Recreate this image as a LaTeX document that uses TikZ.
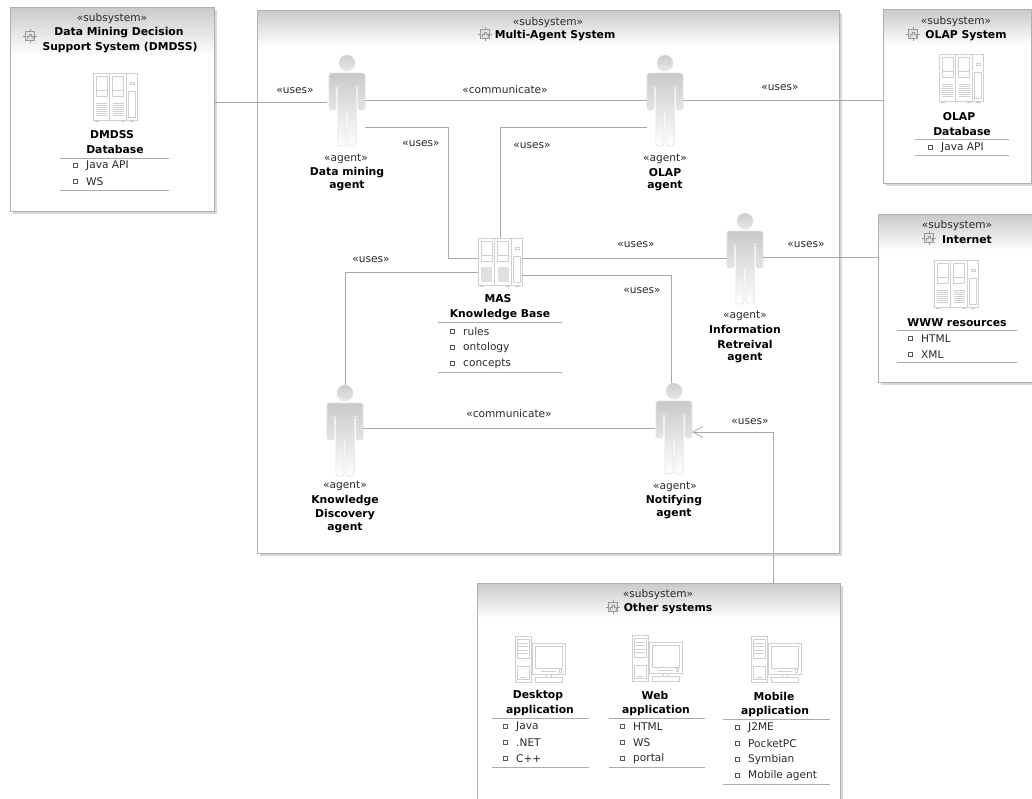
\documentclass[tikz,border=0pt]{standalone}
\usepackage{fontspec}
\setmainfont{DejaVu Sans}
\usetikzlibrary{arrows.meta}
\definecolor{iconc}{HTML}{CFCFCF}
\definecolor{linec}{HTML}{A8A8A8}
\definecolor{framec}{HTML}{B0B0B0}
\definecolor{shadowc}{HTML}{D8D8DC}
\definecolor{headc}{HTML}{C8C9CB}
\definecolor{textc}{HTML}{2A2A2A}
\definecolor{ruleg}{HTML}{ABABAB}
\newcounter{nn}
\tikzset{
  x=1pt,y=-1pt,
  sysbox/.style={draw=none,inner sep=0pt,outer sep=0pt},
  anchorbox/.style={inner sep=0pt,outer sep=0pt},
  conn/.style={draw=linec,line width=0.9pt},
  steret/.style={font=\fontsize{10.6}{12}\selectfont,text=textc,inner sep=0pt,yshift=-1.5pt},
  title/.style={font=\fontsize{10.8}{12}\selectfont\bfseries,text=black,inner sep=0pt,yshift=-1.2pt},
  item/.style={font=\fontsize{10.6}{12}\selectfont,text=textc,inner sep=0pt,anchor=west,yshift=-0.8pt},
  iconl/.style={draw=iconc,line width=0.8pt},
  rulel/.style={draw=ruleg,line width=0.7pt},
}
% \txt{style}{x}{y}{text}
\newcommand{\txt}[4]{\stepcounter{nn}\node[#1] (t\thenn) at (#2,#3) {#4};}
\newcommand{\bul}[3]{\fill[white] (#1-1.8,#2-1.8) rectangle (#1+1.8,#2+1.8);\draw[draw=black!65,line width=0.6pt] (#1-1.8,#2-1.8) rectangle (#1+1.8,#2+1.8);\txt{item}{#1+11}{#2}{#3}}
% system frame x1 y1 x2 y2 ybottomheader name
\newcommand{\sysframe}[6]{%
  \fill[shadowc] (#1+3,#2+3) rectangle (#3+3,#4+3);
  \fill[white] (#1,#2) rectangle (#3,#4);
  \shade[top color=headc,bottom color=white] (#1,#2) rectangle (#3,#5);
  \draw[draw=framec,line width=1pt] (#1,#2) rectangle (#3,#4);
  \node[sysbox,minimum width=#3pt-#1pt,minimum height=#4pt-#2pt] (#6) at ({(#1+#3)/2},{(#2+#4)/2}) {};
}
\newcommand{\subicon}[2]{%
  \begin{scope}[shift={(#1,#2)}]
    \draw[draw=black!40,line width=0.6pt,fill=black!12] (-4.5,-4.5) rectangle (4.5,4.5);
    \draw[draw=black!40,line width=0.6pt] (0,-7) -- (0,-4.5) (0,4.5) -- (0,7) (-7,0) -- (-4.5,0) (4.5,0) -- (7,0);
    \draw[draw=black!40,line width=0.5pt] (-3,2.5) -- (-3,0.5) -- (-1,0.5) -- (-1,-2) -- (1,-2) -- (1,0.5) -- (3,0.5) -- (3,2.5);
  \end{scope}}
% database icon: x y (top-left) name fill(0/1)
\newcommand{\dbicon}[4]{%
  \node[anchorbox,minimum width=44pt,minimum height=49pt] (#3) at (#1+22,#2+24.5) {};
  \begin{scope}[shift={(#1,#2)}]
    \draw[iconl,fill=white] (0,0) rectangle (44,47);
    \draw[iconl] (16.5,0) -- (16.5,47) (33,0) -- (33,47);
    \foreach \dx in {0,16.5}{
      \begin{scope}[shift={(\dx,0)}]
        \draw[iconl] (3,3) rectangle (14,23);
        \draw[iconl] (3,17) -- (14,17);
        \ifnum#4=1
          \fill[black!12] (3,29) rectangle (14,44);
        \else
          \foreach \yy in {30,32,34,36,38,40,42}{\draw[draw=iconc,line width=0.5pt] (3,\yy) -- (14,\yy);}
        \fi
      \end{scope}}
    \draw[iconl] (41,9) rectangle (37,11);
    \draw[iconl] (35.5,18) rectangle (42.5,44);
    \fill[iconc] (2,47) rectangle (6,49) (28,47) rectangle (32,49) (37,47) rectangle (41,49);
  \end{scope}}
% PC icon: x y name
\newcommand{\pcicon}[3]{%
  \node[anchorbox,minimum width=50pt,minimum height=46pt] (#3) at (#1+25,#2+23) {};
  \begin{scope}[shift={(#1,#2)}]
    \draw[iconl] (0,0) rectangle (16,46);
    \draw[iconl] (2,3) rectangle (14,22);
    \draw[iconl] (3,7) -- (13,7) (3,10.5) -- (13,10.5) (3,14) -- (13,14) (3,17.5) -- (13,17.5);
    \draw[iconl] (2,30) rectangle (14,43);
    \draw[iconl] (5,41) -- (11,41);
    \draw[iconl,fill=white] (17,7) rectangle (50,38);
    \draw[iconl] (20,10) rectangle (47,32);
    \draw[iconl] (26,35) -- (41,35);
    \draw[iconl] (44,33.5) rectangle (46,36.5);
    \draw[iconl] (31,38) -- (31,41) (36,38) -- (36,41);
    \draw[iconl] (20,41) rectangle (47,46);
  \end{scope}}
% actor: cx top name
\newcommand{\actor}[3]{%
  \node[anchorbox,minimum width=36pt,minimum height=91pt] (#3) at (#1,#2+45.5) {};
  \begin{scope}[shift={(#1,#2)}]
    \shade[top color=black!20,bottom color=black!9,draw=black!10,line width=0.5pt] (0,8) circle[radius=8];
    \shade[top color=headc,bottom color=white,draw=black!11,line width=0.6pt,rounded corners=2.6pt]
      (-18,18) -- (-18,55) -- (-11,55) -- (-11,31.5) -- (-9.2,31.5) -- (-9.2,91) -- (-1,91) -- (-1,54) -- (1,54) -- (1,91) -- (9.2,91) -- (9.2,31.5) -- (11,31.5) -- (11,55) -- (18,55) -- (18,18) -- cycle;
  \end{scope}}
\begin{document}
\begin{tikzpicture}
\useasboundingbox (0,0) rectangle (1032,798);
\clip (0,0) rectangle (1032,798);
\fill[white] (0,0) rectangle (1032,798);

% frames
\sysframe{10}{7}{214}{211}{55}{dmdss}
\sysframe{257}{10}{839}{553}{46}{mas}
\sysframe{883}{9}{1031}{183}{45}{olapsys}
\sysframe{878}{214}{1045}{382}{250}{internet}
\sysframe{477}{583}{840}{815}{618}{other}

% subsystem titles
\txt{steret}{112}{17}{«subsystem»}
\txt{title}{119}{31}{Data Mining Decision}
\txt{title}{120}{46}{Support System (DMDSS)}
\subicon{30}{36}
\txt{steret}{548}{21}{«subsystem»}
\txt{title}{555}{34}{Multi-Agent System}
\subicon{485}{34}
\txt{steret}{956}{20}{«subsystem»}
\txt{title}{966}{34}{OLAP System}
\subicon{913}{34}
\txt{steret}{957}{224}{«subsystem»}
\txt{title}{967}{238}{Internet}
\subicon{929}{238}
\txt{steret}{658}{593}{«subsystem»}
\txt{title}{668}{607}{Other systems}
\subicon{613}{607}

% icons
\dbicon{93}{73}{dmdssdb}{0}
\dbicon{939}{54}{olapdb}{0}
\dbicon{934}{260}{wwwdb}{0}
\dbicon{478}{238}{kb}{1}
\pcicon{515}{636}{desk}
\pcicon{632}{635}{web}
\pcicon{751}{636}{mobile}

% actors
\actor{347}{55}{dm}
\actor{665}{55}{olap}
\actor{745}{213}{info}
\actor{345}{385}{kd}
\actor{674}{383}{notif}

% connectors
\draw[conn] ([yshift=7pt]dmdss.east) -- ([xshift=-2pt,yshift=7pt]dmdss.east -| dm.west);
\draw[conn] (dm.east) -- (olap.west);
\draw[conn] (olap.east) -- (olap.east -| olapsys.west);
\draw[conn] ([yshift=-26.5pt]dm.east) -- ++(83,0) |- ([yshift=4.5pt]kb.west);
\draw[conn] (kb.north) |- ([yshift=-26.5pt]olap.west);
\draw[conn] ([yshift=-9.5pt]kb.west) -| (kd.north);
\draw[conn] ([yshift=4.5pt]kb.east) -- ([yshift=4.5pt]kb.east -| info.west);
\draw[conn] ([yshift=-12.5pt]kb.east) -| ([xshift=-2.5pt]notif.north);
\draw[conn] ([yshift=1.5pt]info.east) -- ([yshift=1.5pt]info.east -| internet.west);
\draw[conn] (notif.west -| kd.east) -- ([xshift=-1pt]notif.west);
\draw[conn,-{Straight Barb[length=10pt,width=11pt,line width=0.8pt]}] ([xshift=114.5pt]other.north) |- ([yshift=-3.5pt]notif.east);

% connector labels
\txt{steret}{295}{89}{«uses»}
\txt{steret}{505}{88}{«communicate»}
\txt{steret}{421}{142}{«uses»}
\txt{steret}{532}{144}{«uses»}
\txt{steret}{780}{86}{«uses»}
\txt{steret}{636}{243}{«uses»}
\txt{steret}{806}{243}{«uses»}
\txt{steret}{371}{258}{«uses»}
\txt{steret}{642}{289}{«uses»}
\txt{steret}{509}{412}{«communicate»}
\txt{steret}{750}{420}{«uses»}

% actor labels
\txt{steret}{346}{157}{«agent»}
\txt{title}{347}{171}{Data mining}
\txt{title}{347}{185}{agent}
\txt{steret}{665}{157}{«agent»}
\txt{title}{665}{171}{OLAP}
\txt{title}{665}{185}{agent}
\txt{steret}{745}{314}{«agent»}
\txt{title}{745}{328}{Information}
\txt{title}{745}{343}{Retreival}
\txt{title}{745}{357}{agent}
\txt{steret}{345}{484}{«agent»}
\txt{title}{345}{499}{Knowledge}
\txt{title}{345}{513}{Discovery}
\txt{title}{345}{527}{agent}
\txt{steret}{675}{485}{«agent»}
\txt{title}{674}{499}{Notifying}
\txt{title}{674}{513}{agent}

% DMDSS Database
\txt{title}{112}{133}{DMDSS}
\txt{title}{115}{148}{Database}
\draw[rulel] (60,158) -- (169,158) (60,190) -- (169,190);
\bul{75}{165}{Java API}
\bul{75}{181}{WS}

% OLAP Database
\txt{title}{959}{115}{OLAP}
\txt{title}{962}{130}{Database}
\draw[rulel] (915,139) -- (1009,139) (915,155) -- (1009,155);
\bul{930}{147}{Java API}

% WWW
\txt{title}{957}{321}{WWW resources}
\draw[rulel] (897,330) -- (1017,330) (897,362) -- (1017,362);
\bul{910}{338}{HTML}
\bul{910}{354}{XML}

% KB
\txt{title}{498}{297}{MAS}
\txt{title}{500}{313}{Knowledge Base}
\draw[rulel] (438,322) -- (562,322) (438,372) -- (562,372);
\bul{452}{331}{rules}
\bul{452}{347}{ontology}
\bul{452}{363}{concepts}

% Desktop
\txt{title}{538}{694}{Desktop}
\txt{title}{540}{709}{application}
\draw[rulel] (492,718) -- (589,718) (492,767) -- (589,767);
\bul{505}{726}{Java}
\bul{505}{742}{.NET}
\bul{505}{758}{C++}

% Web
\txt{title}{655}{694}{Web}
\txt{title}{656}{709}{application}
\draw[rulel] (609,718) -- (705,718) (609,767) -- (705,767);
\bul{622}{726}{HTML}
\bul{622}{742}{WS}
\bul{622}{758}{portal}

% Mobile
\txt{title}{774}{695}{Mobile}
\txt{title}{775}{710}{application}
\draw[rulel] (723,719) -- (830,719) (723,784) -- (830,784);
\bul{737}{727}{J2ME}
\bul{737}{743}{PocketPC}
\bul{737}{759}{Symbian}
\bul{737}{775}{Mobile agent}
\end{tikzpicture}
\end{document}
